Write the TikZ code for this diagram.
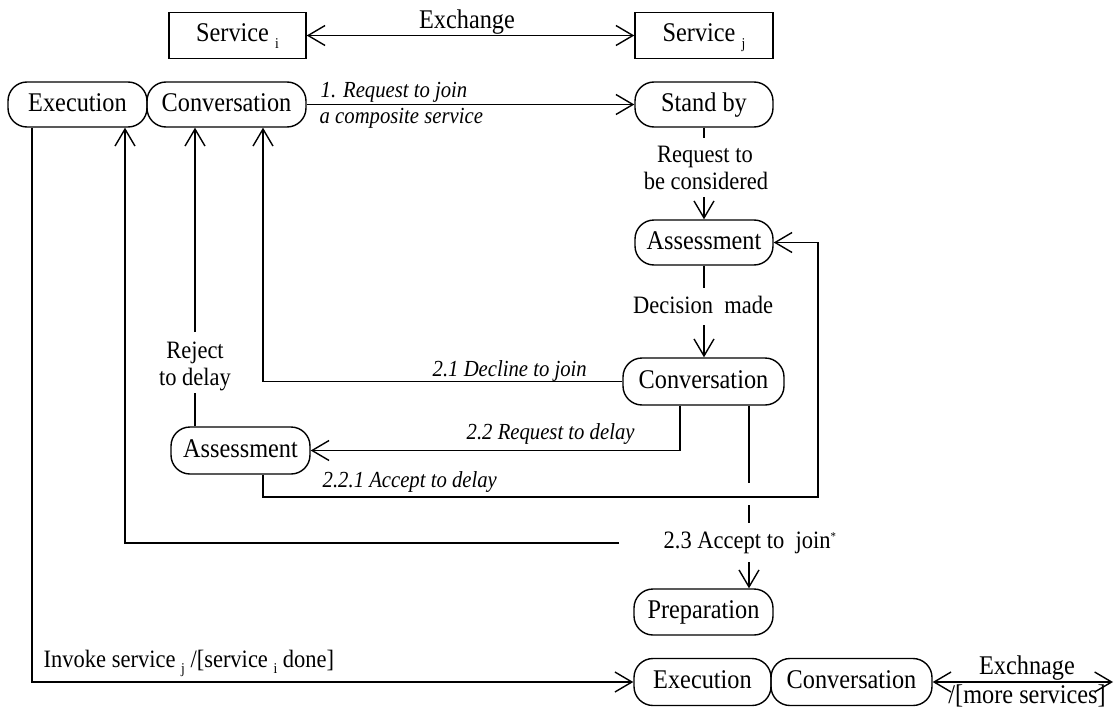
\documentclass[tikz,border=0pt]{standalone}
\usepackage{fontspec}
\setmainfont{Liberation Serif}[FakeStretch=0.9]
\usetikzlibrary{arrows.meta}
\newcommand\nodefont{\fontsize{27}{30}\selectfont}
\newcommand\lblfont{\fontsize{25}{27}\selectfont}
\newcommand\itlfont{\fontsize{23}{26}\selectfont\itshape}
\newcommand\sbx[1]{\raisebox{-6pt}{\fontsize{15}{15}\selectfont #1}}
\newcommand\spx[1]{\raisebox{8pt}{\fontsize{12}{12}\selectfont #1}}
\begin{document}
\begin{tikzpicture}[x=1pt,y=-1pt,line width=1.4pt,
  >={Straight Barb[length=17pt,width=20pt]},
  state/.style={draw, rounded corners=19pt, inner sep=0pt, minimum height=45pt, text height=18pt, text depth=5pt, font=\nodefont},
  svcbox/.style={draw, inner sep=0pt, minimum height=46pt, text height=18pt, text depth=5pt, font=\nodefont},
  lbl/.style={inner sep=0pt, font=\lblfont},
  bigl/.style={inner sep=0pt, font=\nodefont},
  itl/.style={inner sep=0pt, font=\itlfont}]
\useasboundingbox (0,0) rectangle (1114,709);

% nodes
\node[svcbox, minimum width=137pt] (svci) at (237.5,35.5) {Service \sbx{i}};
\node[svcbox, minimum width=138pt] (svcj) at (704,35.5) {Service \sbx{j}};
\node[state, minimum width=139pt] (exec1) at (77.5,104.5) {Execution};
\node[state, minimum width=159pt] (conv1) at (226.5,104.5) {Conversation};
\node[state, minimum width=138pt] (standby) at (704,104.5) {Stand by};
\node[state, minimum width=138pt] (assess1) at (704,242.5) {Assessment};
\node[state, minimum width=161pt, minimum height=47pt] (conv2) at (703.5,381.5) {Conversation};
\node[state, minimum width=139pt, minimum height=47pt] (assess2) at (240.5,450.5) {Assessment};
\node[state, minimum width=139pt, minimum height=46pt] (prep) at (703.5,612) {Preparation};
\node[state, minimum width=137pt, minimum height=47pt] (exec2) at (702.5,682) {Execution};
\node[state, minimum width=161pt, minimum height=47pt] (conv3) at (851.5,682) {Conversation};

% labels
\node[bigl, anchor=base] (exl) at (467,29) {Exchange};
\node[itl, anchor=base west] (l1a) at (320,97) {1. Request to join};
\node[itl, anchor=base west] (l1b) at (319,123) {a composite service};
\node[lbl, anchor=base] (rq1) at (705,162) {Request to};
\node[lbl, anchor=base] (rq2) at (706,189) {be considered};
\node[lbl, anchor=base] (dm) at (703,313) {Decision\ \ made};
\node[lbl, anchor=base] (rj1) at (195,358) {Reject};
\node[lbl, anchor=base] (rj2) at (195,385) {to delay};
\node[itl, anchor=base west] (l21) at (432,376) {2.1 Decline to join};
\node[itl, anchor=base west] (l22) at (466,439) {2.2 Request to delay};
\node[itl, anchor=base west] (l221) at (322,487) {2.2.1 Accept to delay};
\node[lbl, anchor=base west] (l23) at (663,548) {2.3 Accept to\ \ join\spx{*}};
\node[lbl, anchor=base west] (inv) at (43,667) {Invoke service \sbx{j} /[service \sbx{i} done]};
\node[bigl, anchor=base] (exl2) at (1027,674) {Exchnage};
\node[bigl, anchor=base] (more) at (1027,703) {/[more services]};

% coordinates
\coordinate (cs1) at (704,138);
\coordinate (cs2) at (704,197);
\coordinate (cd1) at (704,288);
\coordinate (cd2) at (704,325);
\coordinate (c21) at (263,381.5);
\coordinate (c22) at (680,450.5);
\coordinate (c221a) at (263,497);
\coordinate (c221b) at (818,497);
\coordinate (cr1) at (195,393);
\coordinate (cr2) at (195,332);
\coordinate (c23a) at (749,483);
\coordinate (c23b) at (749,505);
\coordinate (c23c) at (749,523);
\coordinate (c23d) at (749,562);
\coordinate (c23e) at (619,543);
\coordinate (c23f) at (125,543);
\coordinate (ci) at (32,682);
\coordinate (ce) at (1113,682);

% connectors
\draw[<->] (svci.east) -- (svcj.west);
\draw[->] (conv1.east) -- (standby.west);
\draw (standby.south) -- (cs1);
\draw[->] (cs2) -- (assess1.north);
\draw (assess1.south) -- (cd1);
\draw[->] (cd2) -- (conv2.north -| cd2);
\draw[->] (conv2.west) -- (c21) -- (conv1.south -| c21);
\draw[->] (conv2.south -| c22) -- (c22) -- (assess2.east);
\draw[->] (assess2.south -| c221a) -- (c221a) -- (c221b) -- (c221b |- assess1.east) -- (assess1.east);
\draw (assess2.north -| cr1) -- (cr1);
\draw[->] (cr2) -- (conv1.south -| cr2);
\draw (conv2.south -| c23a) -- (c23a);
\draw (c23b) -- (c23c);
\draw[->] (c23d) -- (prep.north -| c23d);
\draw[->] (c23e) -- (c23f) -- (exec1.south -| c23f);
\draw[->] (exec1.south -| ci) -- (ci) -- (exec2.west);
\draw[<->] (conv3.east) -- (ce);
\end{tikzpicture}
\end{document}
